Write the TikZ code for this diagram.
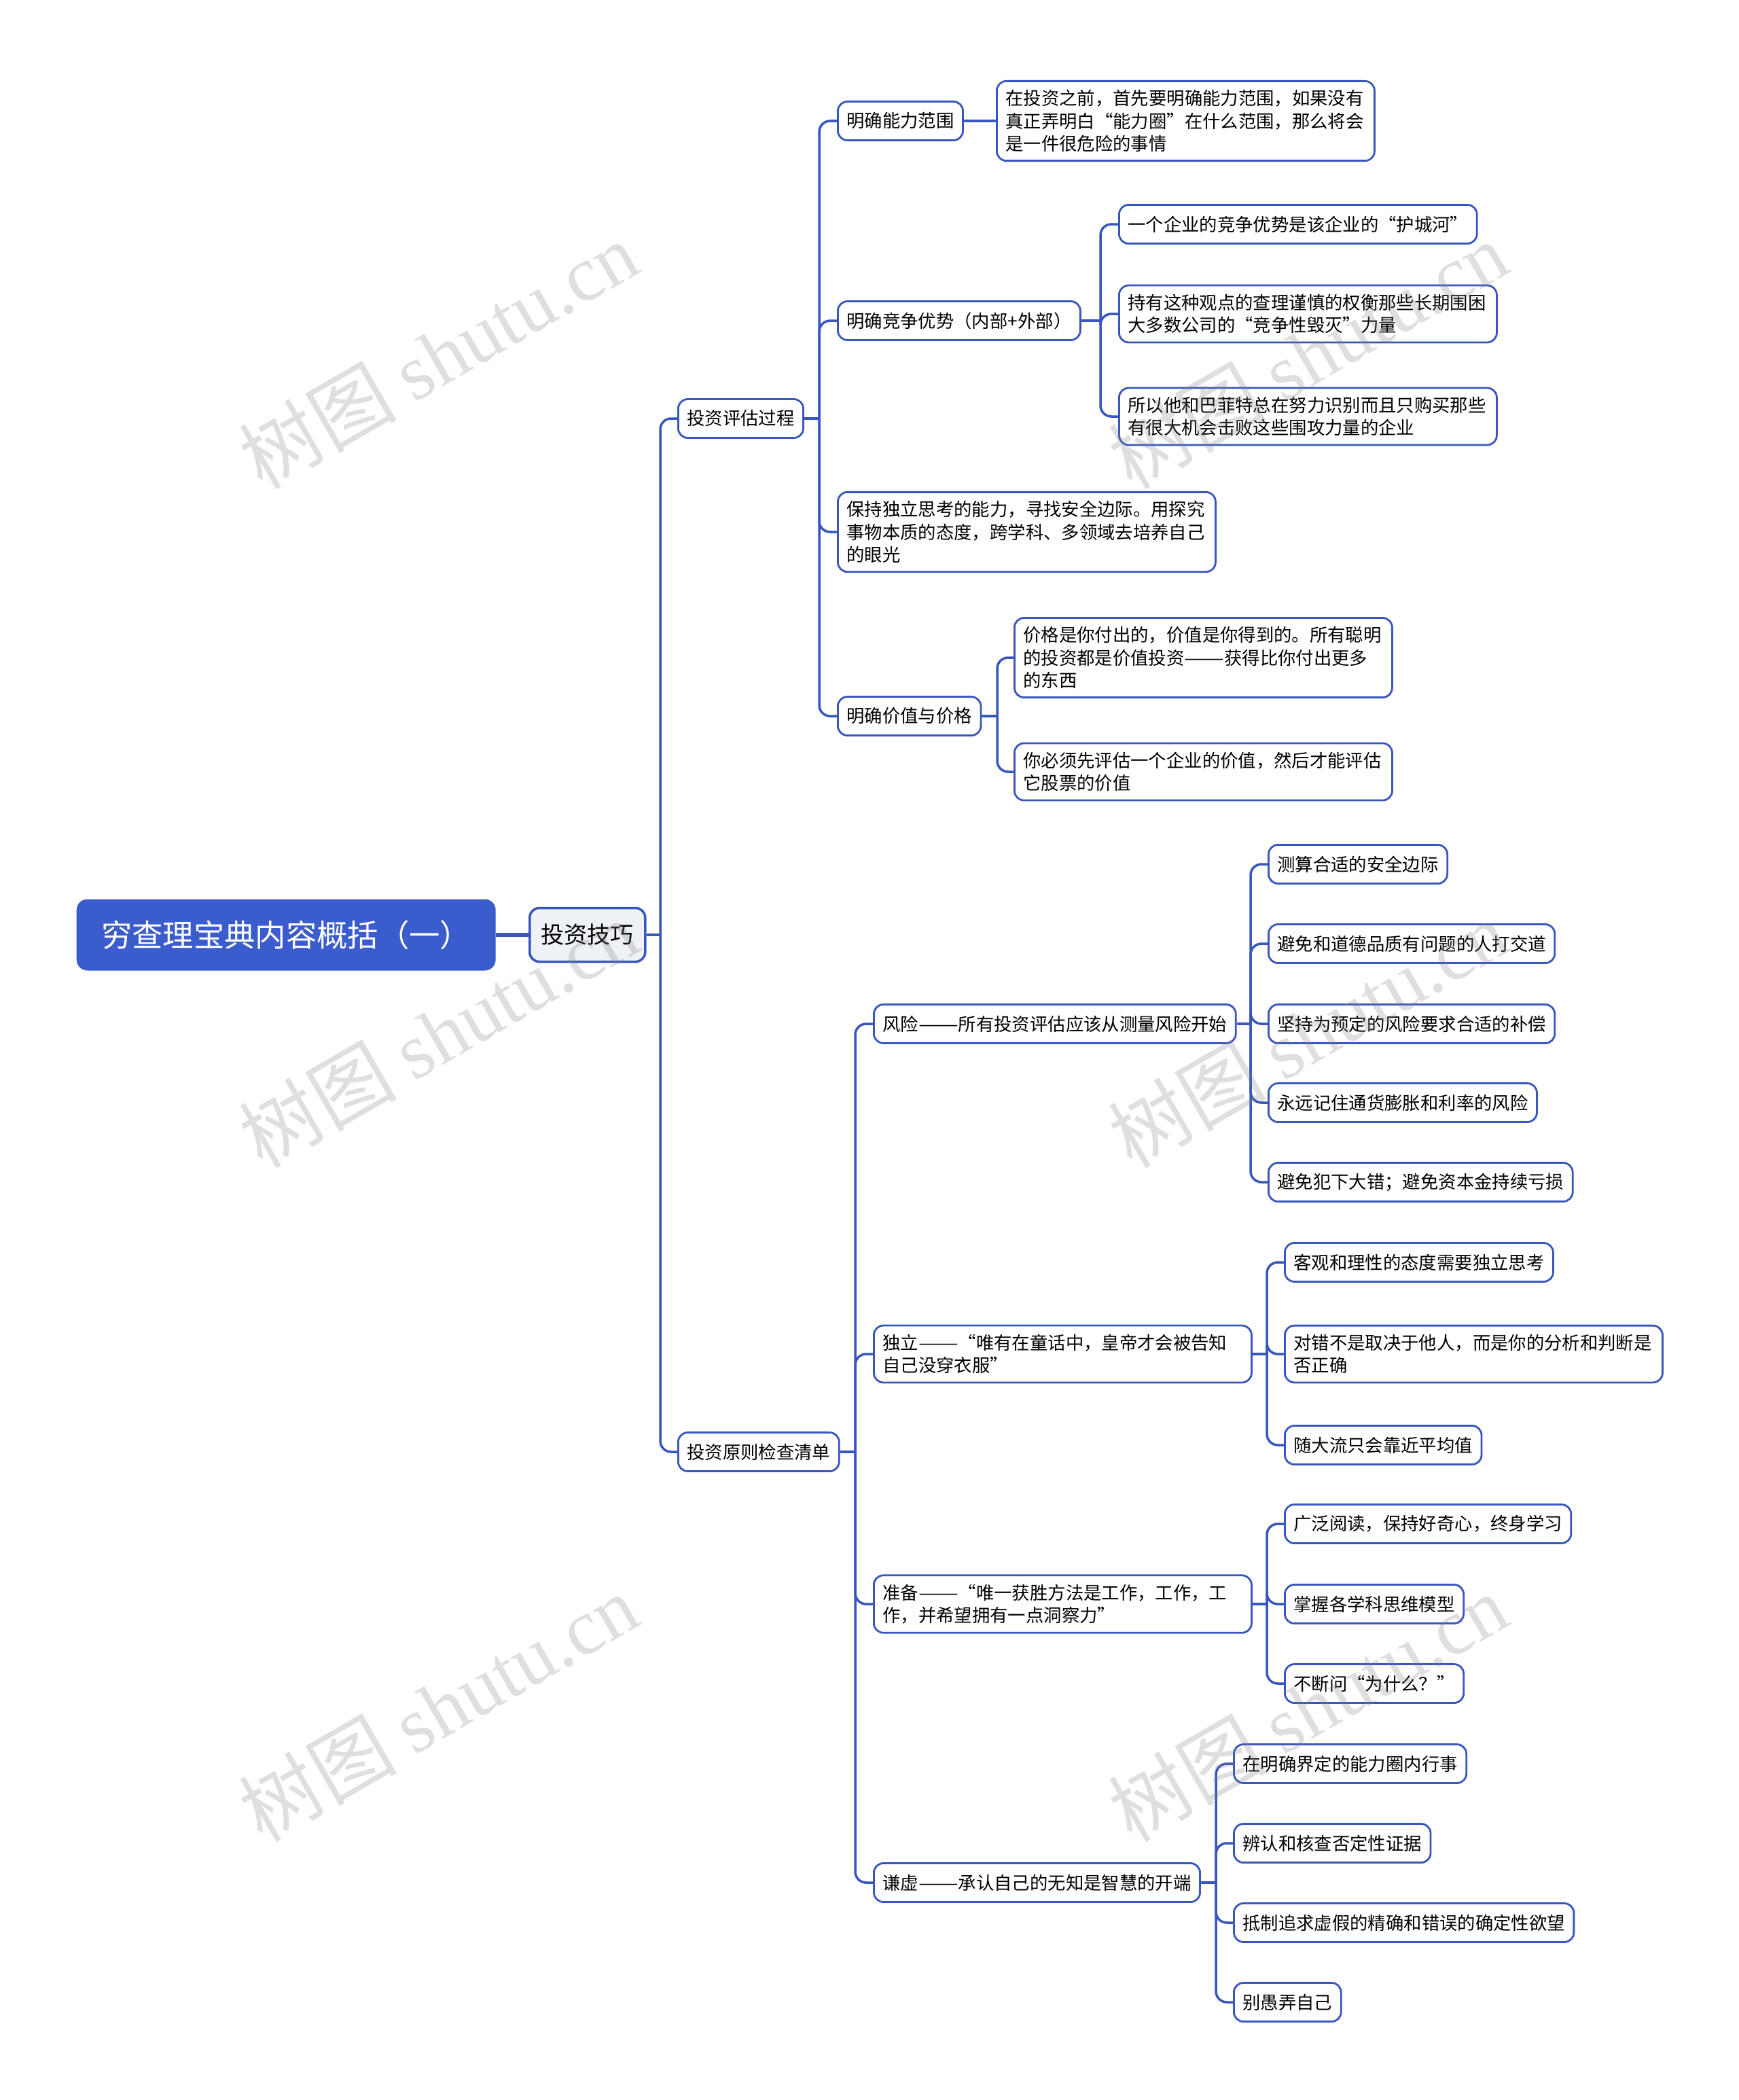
\documentclass[tikz,border=0pt]{standalone}
\usepackage{fontspec}
\setmainfont{Noto Sans CJK SC}
\newfontfamily\wmlatin{Liberation Serif}
\definecolor{lineblue}{RGB}{56,86,190}
\definecolor{rootblue}{RGB}{59,92,204}
\definecolor{topicgray}{RGB}{238,241,246}
\newcommand{\emdashes}{\scalebox{1.33}[1]{——}}

\begin{document}
\begin{tikzpicture}[x=1cm, y=-1cm,
    box/.style={draw=lineblue, line width=0.8pt, rounded corners=0.14cm, fill=white,
        font=\fontsize{7.5}{9.5}\selectfont, inner xsep=0.13cm, inner ysep=0.13cm,
        minimum height=0.57cm, anchor=west, align=left},
    para/.style={box, text width=5.3cm},
    link/.style={draw=lineblue, line width=1pt, rounded corners=0.16cm},
    wm/.style={text=gray, opacity=0.25, rotate=30, font=\fontsize{33}{33}\selectfont}]
    \useasboundingbox (0,0) rectangle (25.6,30.91);

    % Root and first topic
    \node[fill=rootblue, text=white, rounded corners=0.16cm, anchor=west,
        minimum width=6.17cm, minimum height=1.05cm,
        font=\fontsize{12.9}{14}\selectfont] (root) at (1.12,13.76) {穷查理宝典内容概括（一）};
    \node[box, fill=topicgray, line width=1pt, font=\fontsize{9.7}{12}\selectfont,
        minimum width=1.70cm, minimum height=0.79cm, align=center] (skill) at (7.78,13.76) {投资技巧};
    \draw[lineblue, line width=1.5pt] (root.east) -- (skill.west);

    \node[box] (assess) at (9.97,6.16) {投资评估过程};
    \node[box] (check) at (9.97,21.37) {投资原则检查清单};

    % Branch 1: assessment
    \node[box] (scope) at (12.32,1.78) {明确能力范围};
    \node[para] (scopenote) at (14.66,1.78) {在投资之前，首先要明确能力范围，如果没有\\真正弄明白“能力圈”在什么范围，那么将会\\是一件很危险的事情};
    \node[box] (moat) at (12.32,4.72) {明确竞争优势（内部+外部）};
    \node[box] (moatA) at (16.46,3.30) {一个企业的竞争优势是该企业的“护城河”};
    \node[para] (moatB) at (16.46,4.62) {持有这种观点的查理谨慎的权衡那些长期围困\\大多数公司的“竞争性毁灭”力量};
    \node[para] (moatC) at (16.46,6.13) {所以他和巴菲特总在努力识别而且只购买那些\\有很大机会击败这些围攻力量的企业};
    \node[para] (think) at (12.32,7.83) {保持独立思考的能力，寻找安全边际。用探究\\事物本质的态度，跨学科、多领域去培养自己\\的眼光};
    \node[box] (value) at (12.32,10.54) {明确价值与价格};
    \node[para] (valueA) at (14.92,9.68) {价格是你付出的，价值是你得到的。所有聪明\\的投资都是价值投资\emdashes 获得比你付出更多\\的东西};
    \node[para] (valueB) at (14.92,11.36) {你必须先评估一个企业的价值，然后才能评估\\它股票的价值};

    % Branch 2: checklist
    \node[box] (risk) at (12.85,15.07) {风险\emdashes 所有投资评估应该从测量风险开始};
    \node[box] (riskA) at (18.66,12.72) {测算合适的安全边际};
    \node[box] (riskB) at (18.66,13.89) {避免和道德品质有问题的人打交道};
    \node[box] (riskC) at (18.66,15.07) {坚持为预定的风险要求合适的补偿};
    \node[box] (riskD) at (18.66,16.23) {永远记住通货膨胀和利率的风险};
    \node[box] (riskE) at (18.66,17.40) {避免犯下大错；避免资本金持续亏损};
    \node[para] (indep) at (12.85,19.93) {独立\emdashes “唯有在童话中，皇帝才会被告知\\自己没穿衣服”};
    \node[box] (indepA) at (18.90,18.58) {客观和理性的态度需要独立思考};
    \node[para] (indepB) at (18.90,19.93) {对错不是取决于他人，而是你的分析和判断是\\否正确};
    \node[box] (indepC) at (18.90,21.27) {随大流只会靠近平均值};
    \node[para] (prep) at (12.85,23.61) {准备\emdashes “唯一获胜方法是工作，工作，工\\作，并希望拥有一点洞察力”};
    \node[box] (prepA) at (18.90,22.43) {广泛阅读，保持好奇心，终身学习};
    \node[box] (prepB) at (18.90,23.61) {掌握各学科思维模型};
    \node[box] (prepC) at (18.90,24.78) {不断问“为什么？”};
    \node[box] (humble) at (12.85,27.71) {谦虚\emdashes 承认自己的无知是智慧的开端};
    \node[box] (humbleA) at (18.15,25.96) {在明确界定的能力圈内行事};
    \node[box] (humbleB) at (18.15,27.13) {辨认和核查否定性证据};
    \node[box] (humbleC) at (18.15,28.30) {抵制追求虚假的精确和错误的确定性欲望};
    \node[box] (humbleD) at (18.15,29.47) {别愚弄自己};

    % Connectors
    \coordinate (s0) at ([xshift=-0.25cm]assess.west);
    \coordinate (j0) at (s0 |- skill.east);
    \draw[link] (skill.east) -- (j0);
    \foreach \c in {assess,check} \draw[link] (j0) |- (\c.west);

    \coordinate (s1) at ([xshift=-0.26cm]scope.west);
    \coordinate (j1) at (s1 |- assess.east);
    \draw[link] (assess.east) -- (j1);
    \foreach \c in {scope,moat,think,value} \draw[link] (j1) |- (\c.west);
    \draw[link] (scope.east) -- (scopenote.west);

    \coordinate (s2) at ([xshift=-0.26cm]moatA.west);
    \coordinate (j2) at (s2 |- moat.east);
    \draw[link] (moat.east) -- (j2);
    \foreach \c in {moatA,moatB,moatC} \draw[link] (j2) |- (\c.west);

    \coordinate (s3) at ([xshift=-0.24cm]valueA.west);
    \coordinate (j3) at (s3 |- value.east);
    \draw[link] (value.east) -- (j3);
    \foreach \c in {valueA,valueB} \draw[link] (j3) |- (\c.west);

    \coordinate (s4) at ([xshift=-0.26cm]risk.west);
    \coordinate (j4) at (s4 |- check.east);
    \draw[link] (check.east) -- (j4);
    \foreach \c in {risk,indep,prep,humble} \draw[link] (j4) |- (\c.west);

    \coordinate (s5) at ([xshift=-0.25cm]riskA.west);
    \coordinate (j5) at (s5 |- risk.east);
    \draw[link] (risk.east) -- (j5);
    \foreach \c in {riskA,riskB,riskC,riskD,riskE} \draw[link] (j5) |- (\c.west);

    \coordinate (s6) at ([xshift=-0.25cm]indepA.west);
    \coordinate (j6) at (s6 |- indep.east);
    \draw[link] (indep.east) -- (j6);
    \foreach \c in {indepA,indepB,indepC} \draw[link] (j6) |- (\c.west);

    \coordinate (s7) at ([xshift=-0.25cm]prepA.west);
    \coordinate (j7) at (s7 |- prep.east);
    \draw[link] (prep.east) -- (j7);
    \foreach \c in {prepA,prepB,prepC} \draw[link] (j7) |- (\c.west);

    \coordinate (s8) at ([xshift=-0.25cm]humbleA.west);
    \coordinate (j8) at (s8 |- humble.east);
    \draw[link] (humble.east) -- (j8);
    \foreach \c in {humbleA,humbleB,humbleC,humbleD} \draw[link] (j8) |- (\c.west);

    % Watermarks
    \foreach \x/\y in {6.45/5.22, 6.45/15.21, 6.45/25.13, 19.25/5.22, 19.25/15.21, 19.25/25.13}
        \node[wm] at (\x,\y) {树图 {\wmlatin shutu.cn}};
\end{tikzpicture}
\end{document}
